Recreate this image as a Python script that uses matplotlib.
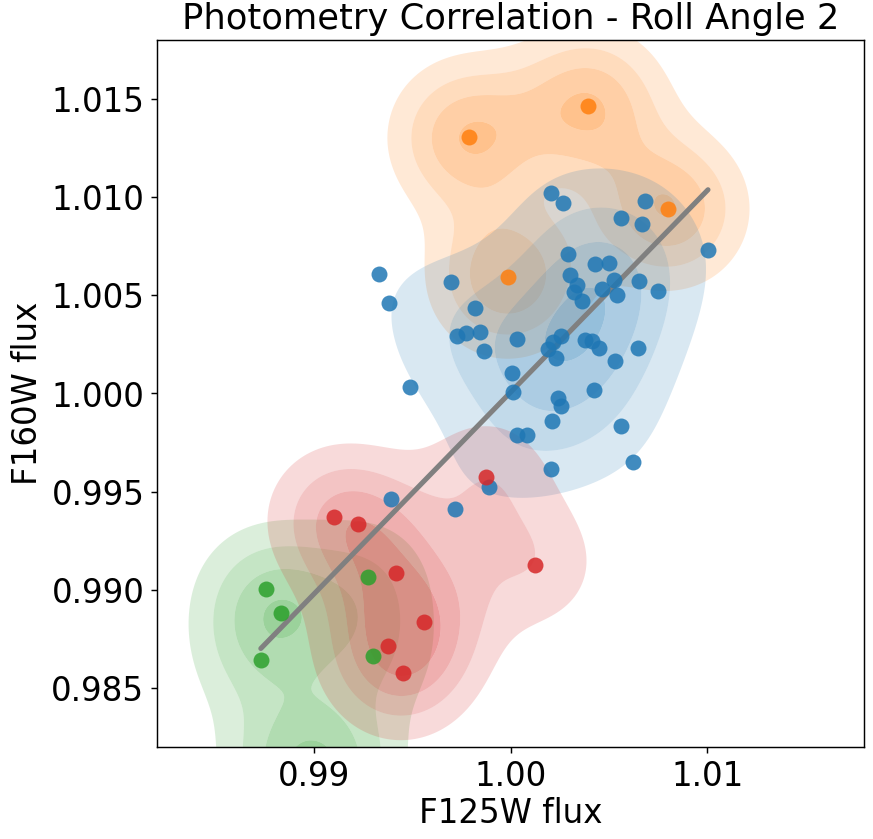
import numpy as np
import matplotlib
matplotlib.use("Agg")
import matplotlib.pyplot as plt
from matplotlib.colors import to_rgb

# ---------------- data ----------------
blue_x = [0.99332, 0.99378, 0.99698, 0.99820, 0.99724, 0.99773, 0.99846, 0.99866,
          1.00030, 0.99485, 1.00005, 1.00012, 1.00205, 1.00264, 1.00681, 1.00559,
          1.00667, 1.01004, 1.00291, 1.00428, 1.00498, 1.00303, 1.00338, 1.00323,
          1.00362, 1.00526, 1.00465, 1.00542, 1.00653, 1.00748, 1.00256, 1.00213,
          1.00188, 1.00230, 1.00376, 1.00415, 1.00450, 1.00648, 1.00532, 1.00243,
          1.00423, 1.00257, 1.00208, 1.00034, 1.00084, 1.00562, 1.00620, 1.00206,
          0.99392, 0.99715, 0.99888]
blue_y = [1.00607, 1.00457, 1.00566, 1.00434, 1.00294, 1.00307, 1.00313, 1.00216,
          1.00277, 1.00030, 1.00103, 1.00008, 1.01017, 1.00968, 1.00979, 1.00890,
          1.00862, 1.00729, 1.00710, 1.00659, 1.00663, 1.00602, 1.00549, 1.00517,
          1.00471, 1.00576, 1.00531, 1.00500, 1.00573, 1.00522, 1.00291, 1.00259,
          1.00225, 1.00179, 1.00272, 1.00264, 1.00233, 1.00232, 1.00164, 0.99975,
          1.00018, 0.99933, 0.99858, 0.99790, 0.99789, 0.99831, 0.99648, 0.99616,
          0.99461, 0.99412, 0.99525]

orange_x = [0.99787, 1.00394, 1.00801, 0.99985]
orange_y = [1.01302, 1.01460, 1.00938, 1.00590]

# the last three green points lie just below the visible y-range
green_x = [0.98755, 0.98831, 0.98728, 0.99276, 0.99299, 0.98860, 0.98990, 0.99120]
green_y = [0.99003, 0.98884, 0.98643, 0.99064, 0.98665, 0.98100, 0.98070, 0.98100]

red_x = [0.99099, 0.99224, 0.99417, 0.99558, 0.99377, 0.99451, 0.99876, 1.00122]
red_y = [0.99371, 0.99334, 0.99086, 0.98835, 0.98713, 0.98575, 0.99573, 0.99127]

fit_slope = 1.0259
fit_intercept = -0.02584

x_ticks = [0.99, 1.00, 1.01]
y_ticks = [0.985, 0.990, 0.995, 1.000, 1.005, 1.010, 1.015]

title = "Photometry Correlation - Roll Angle 2"
xlabel = "F125W flux"
ylabel = "F160W flux"

# (x, y, colour, kernel width, contour step as a fraction of the peak density)
groups = [
    (blue_x, blue_y, "#1f77b4", 0.0027, 0.235),
    (orange_x, orange_y, "#ff7f0e", 0.0025, 0.235),
    (green_x, green_y, "#2ca02c", 0.0025, 0.23),
    (red_x, red_y, "#d62728", 0.0025, 0.195),
]


def kde_grid(x, y, xx, yy, bw):
    dens = np.zeros_like(xx)
    for xi, yi in zip(x, y):
        dens += np.exp(-0.5 * ((xx - xi) ** 2 + (yy - yi) ** 2) / bw ** 2)
    return dens


DPI = 130
fig = plt.figure(figsize=(873.4 / DPI, 839.4 / DPI), dpi=DPI)
ax = fig.add_axes([157 / 873, 1 - 747 / 839, (864 - 157) / 873, (747 - 40) / 839])

gx = np.linspace(0.970, 1.030, 450)
gy = np.linspace(0.970, 1.030, 450)
XX, YY = np.meshgrid(gx, gy)

alphas = [0.17, 0.27, 0.37, 0.47]
kde_order = [1, 0, 2, 3]
for gi in kde_order:
    x, y, c, bw, step = groups[gi]
    Z = kde_grid(x, y, XX, YY, bw)
    zmax = Z.max()
    levels = [k * step * zmax for k in (1, 2, 3, 4)] + [zmax * 1.01]
    rgb = to_rgb(c)
    cols = [(rgb[0], rgb[1], rgb[2], a) for a in alphas]
    ax.contourf(XX, YY, Z, levels=levels, colors=cols, antialiased=True, zorder=1)

vis_x = np.concatenate([blue_x, orange_x, green_x[:5], red_x])
line_x = np.array([vis_x.min(), vis_x.max()])
ax.plot(line_x, fit_slope * line_x + fit_intercept, color="#808080", lw=2.8,
        solid_capstyle="round", zorder=2)

for x, y, c, _, _ in groups:
    ax.scatter(x, y, s=78, color=c, alpha=0.85, linewidths=0, zorder=3)

ax.set_xlim(0.982, 1.018)
ax.set_ylim(0.982, 1.018)
ax.set_xticks(x_ticks)
ax.set_xticklabels([f"{v:.2f}" for v in x_ticks])
ax.set_yticks(y_ticks)
ax.set_yticklabels([f"{v:.3f}" for v in y_ticks])
ax.tick_params(labelsize=18, length=3.5, width=0.8)
ax.set_xlabel(xlabel, fontsize=18, labelpad=2)
ax.set_ylabel(ylabel, fontsize=18, labelpad=4)
ax.set_title(title, fontsize=19.5)

fig.savefig("out.png", dpi=DPI)
